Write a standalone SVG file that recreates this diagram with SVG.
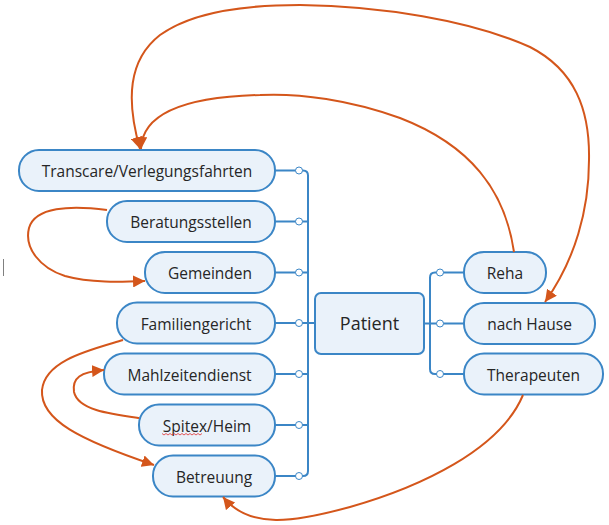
<svg xmlns="http://www.w3.org/2000/svg" width="609" height="525" viewBox="0 0 609 525">
  <style>
    .node rect { fill: #eaf2fa; stroke: #3b86c6; stroke-width: 2; }
    .node text { font-family: "Open Sans", "Noto Sans", sans-serif; font-size: 15.5px; fill: #262626; text-anchor: middle; }
    #patient text { font-size: 18px; }
    .tree { fill: none; stroke: #3b86c6; stroke-width: 2; }
    .dot { fill: #ffffff; stroke: #3b86c6; stroke-width: 1; }
    .rel { fill: none; stroke: #d4561b; stroke-width: 2; marker-end: url(#arrow); }
    .both { marker-start: url(#arrow); }
  </style>
  <defs>
    <marker id="arrow" markerUnits="userSpaceOnUse" markerWidth="14" markerHeight="12" refX="12" refY="6" orient="auto-start-reverse">
      <path d="M0,0 L12,6 L0,12 Z" fill="#d4561b"/>
    </marker>
  </defs>
  <rect width="609" height="525" fill="#ffffff"/>

  <!-- tree connectors -->
  <g id="connectors">
    <path class="tree" d="M275,170.5 H303 Q308,170.5 308,175.5 V471 Q308,476 303,476 H275"/>
    <path class="tree" d="M275,221.5 H308 M275,272.5 H308 M275,323 H315 M275,374 H308 M275,425 H308"/>
    <path class="tree" d="M424,323.5 H464 M464,272.5 H435 Q430,272.5 430,277.5 V369 Q430,374 435,374 H464"/>
    <circle class="dot" cx="299" cy="170.5" r="3.5"/>
    <circle class="dot" cx="299" cy="221.5" r="3.5"/>
    <circle class="dot" cx="299" cy="272.5" r="3.5"/>
    <circle class="dot" cx="299" cy="323" r="3.5"/>
    <circle class="dot" cx="299" cy="374" r="3.5"/>
    <circle class="dot" cx="299" cy="425" r="3.5"/>
    <circle class="dot" cx="299" cy="476" r="3.5"/>
    <circle class="dot" cx="440" cy="272.5" r="3.5"/>
    <circle class="dot" cx="440" cy="323.5" r="3.5"/>
    <circle class="dot" cx="440" cy="374" r="3.5"/>
  </g>

  <!-- nodes -->
  <g id="patient" class="node">
    <rect x="315" y="293" width="109" height="61" rx="6"/>
    <text x="369.5" y="330">Patient</text>
  </g>
  <g id="transcare" class="node">
    <rect x="19" y="150" width="256" height="41" rx="20"/>
    <text x="147" y="177">Transcare/Verlegungsfahrten</text>
  </g>
  <g id="beratungsstellen" class="node">
    <rect x="107" y="201" width="168" height="41" rx="20"/>
    <text x="191" y="228">Beratungsstellen</text>
  </g>
  <g id="gemeinden" class="node">
    <rect x="145" y="252" width="130" height="41" rx="20"/>
    <text x="210" y="279">Gemeinden</text>
  </g>
  <g id="familiengericht" class="node">
    <rect x="117" y="302.5" width="158" height="41" rx="20"/>
    <text x="196" y="329.5">Familiengericht</text>
  </g>
  <g id="mahlzeitendienst" class="node">
    <rect x="104" y="353.5" width="171" height="41" rx="20"/>
    <text x="189.5" y="380.5">Mahlzeitendienst</text>
  </g>
  <g id="spitex" class="node">
    <rect x="139" y="404.5" width="136" height="41" rx="20"/>
    <text x="207" y="431.5">Spitex/Heim</text>
    <path d="M162,433.5 l2,1.5 l2,-1.5 l2,1.5 l2,-1.5 l2,1.5 l2,-1.5 l2,1.5 l2,-1.5 l2,1.5 l2,-1.5 l2,1.5 l2,-1.5 l2,1.5 l2,-1.5 l2,1.5 l2,-1.5 l2,1.5 l2,-1.5 l2,1.5 l2,-1.5" fill="none" stroke="#e03030" stroke-width="0.8"/>
  </g>
  <g id="betreuung" class="node">
    <rect x="153" y="455.5" width="122" height="41" rx="20"/>
    <text x="214" y="482.5">Betreuung</text>
  </g>
  <g id="reha" class="node">
    <rect x="464" y="252" width="82" height="41" rx="20"/>
    <text x="505" y="279">Reha</text>
  </g>
  <g id="nach-hause" class="node">
    <rect x="464" y="303" width="131" height="41" rx="20"/>
    <text x="529.5" y="330">nach Hause</text>
  </g>
  <g id="therapeuten" class="node">
    <rect x="464" y="353.5" width="139" height="41" rx="20"/>
    <text x="533.5" y="380.5">Therapeuten</text>
  </g>

  <!-- relationship arrows -->
  <g id="relations">
    <path class="rel" d="M514,252 C505,190 470,145 400,118 C350,100 300,93 260,95 C180,97 142,115 141,149"/>
    <path class="rel both" d="M545,302 C575,260 589,210 589,160 C590,110 575,70 530,47 C470,20 380,6 300,5 C250,5 195,10 160,35 C128,60 126,100 140,149"/>
    <path class="rel" d="M107,210 C70,205 35,207 29,228 C24,248 40,268 65,276 C90,283 120,282 145,281"/>
    <path class="rel" d="M123,340 C90,350 45,360 42,390 C40,420 80,440 154,465"/>
    <path class="rel" d="M139,418 C110,414 78,410 74,392 C72,378 80,372 104,370"/>
    <path class="rel" d="M523,395 C500,450 420,487 350,507 C295,522 250,530 223,497"/>
  </g>

  <!-- text cursor -->
  <line x1="3.5" y1="259" x2="3.5" y2="276" stroke="#808080" stroke-width="1"/>
</svg>
